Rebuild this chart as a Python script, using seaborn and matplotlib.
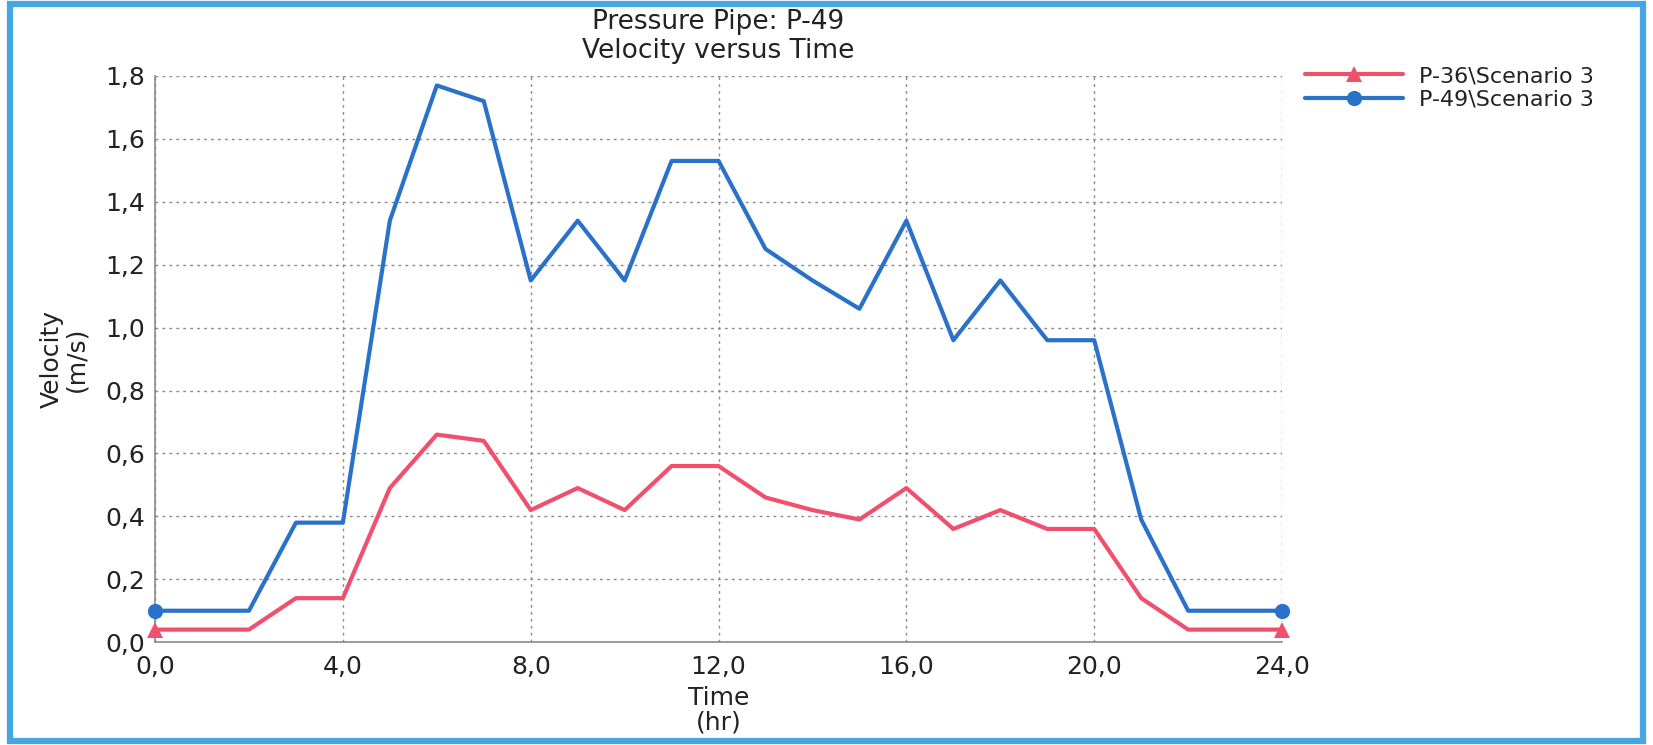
import matplotlib
matplotlib.use("Agg")
import matplotlib.pyplot as plt
from matplotlib.lines import Line2D
from matplotlib.patches import Rectangle
from matplotlib.ticker import FuncFormatter, MultipleLocator
import pandas as pd
import seaborn as sns

# Hourly time steps (hr)
hours = list(range(0, 25))

# Velocity (m/s) for each pipe
p36_velocity = [0.04, 0.04, 0.04, 0.14, 0.14, 0.49, 0.66, 0.64, 0.42, 0.49, 0.42,
                0.56, 0.56, 0.46, 0.42, 0.39, 0.49, 0.36, 0.42, 0.36, 0.36,
                0.14, 0.04, 0.04, 0.04]
p49_velocity = [0.10, 0.10, 0.10, 0.38, 0.38, 1.34, 1.77, 1.72, 1.15, 1.34, 1.15,
                1.53, 1.53, 1.25, 1.15, 1.06, 1.34, 0.96, 1.15, 0.96, 0.96,
                0.39, 0.10, 0.10, 0.10]

series_names = ["P-36\\Scenario 3", "P-49\\Scenario 3"]
series_colors = ["#f0506c", "#2a72c9"]
series_markers = ["^", "o"]
series_marker_sizes = [12, 11]

title_lines = ["Pressure Pipe: P-49", "Velocity versus Time"]
x_label = "Time\n(hr)"
y_label = "Velocity\n(m/s)"

df = pd.DataFrame({
    "Time": hours * 2,
    "Velocity": p36_velocity + p49_velocity,
    "Series": [series_names[0]] * len(hours) + [series_names[1]] * len(hours),
})

sns.set_theme(style="white")
plt.rcParams["font.family"] = ["DejaVu Sans"]
text_color = "#222222"

fig = plt.figure(figsize=(16.53, 7.45), dpi=100)
ax = fig.add_axes([0.0938, 0.138, 0.6818, 0.760])

# Each series: a line with a marker only at its first and last sample
for name, color, marker, msize in zip(series_names, series_colors,
                                      series_markers, series_marker_sizes):
    sub = df[df["Series"] == name]
    sns.lineplot(data=sub, x="Time", y="Velocity", ax=ax, color=color,
                 linewidth=3.0, marker=marker, markersize=msize,
                 markeredgewidth=0, markevery=[0, len(sub) - 1],
                 clip_on=False, zorder=3, legend=False)

ax.set_xlim(0, 24)
ax.set_ylim(0, 1.8)
ax.xaxis.set_major_locator(MultipleLocator(4))
ax.yaxis.set_major_locator(MultipleLocator(0.2))
fmt = FuncFormatter(lambda v, pos: f"{v:.1f}".replace(".", ","))
ax.xaxis.set_major_formatter(fmt)
ax.yaxis.set_major_formatter(fmt)
ax.tick_params(axis="both", length=0, labelsize=18, colors=text_color)
ax.tick_params(axis="x", pad=9)
ax.tick_params(axis="y", pad=7)

ax.grid(True, which="major", linestyle=(0, (2, 3)), color="#8a8a8a", linewidth=1.0)
for side in ["top", "right"]:
    ax.spines[side].set_visible(False)
for side in ["left", "bottom"]:
    ax.spines[side].set_color("#8a8a8a")
    ax.spines[side].set_linewidth(1.2)

ax.set_xlabel(x_label, fontsize=18, color=text_color, labelpad=5, linespacing=1.05)
ax.set_ylabel(y_label, fontsize=18, color=text_color, labelpad=12, linespacing=1.05)
ax.set_title("\n".join(title_lines), fontsize=19, color=text_color, pad=13,
             linespacing=1.15)

# Legend entries: line with its marker centred on the handle
handles = [Line2D([], [], color=c, linewidth=3.0, marker=m, markersize=s,
                  markeredgewidth=0)
           for c, m, s in zip(series_colors, series_markers, series_marker_sizes)]
fig.legend(handles, series_names, loc="upper left",
           bbox_to_anchor=(1305 / 1653, 1 - 66 / 745),
           frameon=False, fontsize=16, handlelength=4.4, handletextpad=0.75,
           labelspacing=0.15, borderpad=0, borderaxespad=0, numpoints=1,
           labelcolor=text_color)

# Blue frame around the whole graphic
fig.patches.append(Rectangle((0.006, 0.006), 0.988, 0.988, transform=fig.transFigure,
                             fill=False, edgecolor="#45a6e2", linewidth=4.5))

fig.savefig("out.png", dpi=100, facecolor="white")
